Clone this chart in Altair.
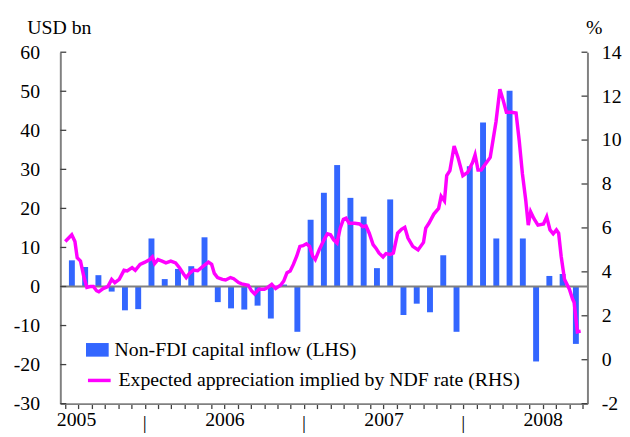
import altair as alt
import pandas as pd

# ---------------- data ----------------
bar_name = "Non-FDI capital inflow (LHS)"
line_name = "Expected appreciation implied by NDF rate (RHS)"

# monthly, Jan 2005 .. Mar 2008 (month index 0..38)
months = list(range(39))
inflow = [6.7, 5.0, 2.9, -1.3, -6.1, -5.8, 12.3, 1.9, 4.5, 5.2, 12.6, -4.0,
          -5.6, -5.9, -4.9, -8.2, 0.5, -11.6, 17.1, 24.0, 31.1, 22.7, 17.9, 4.7,
          22.3, -7.3, -4.4, -6.6, 8.0, -11.6, 30.8, 42.0, 12.3, 50.1, 12.3, -19.2,
          2.7, 3.2, -14.7]

# NDF implied appreciation, time in months since Jan 2005
line_t = [0, 0.49, 0.73, 0.90, 1.15, 1.39, 1.63, 1.88, 2.12, 2.36, 2.53, 2.85,
          3.21, 3.50, 3.74, 4.07, 4.43, 4.67, 5.04, 5.28, 5.64, 6.01, 6.37, 6.57,
          6.74, 6.99, 7.30, 7.59, 7.96, 8.32, 8.61, 8.93, 9.12, 9.36, 9.66, 9.98,
          10.27, 10.64, 10.80, 11.04, 11.24, 11.48, 11.85, 12.09, 12.46, 12.70,
          13.07, 13.31, 13.80, 14.04, 14.28, 14.60, 15.01, 15.26, 15.57, 15.86,
          16.23, 16.47, 16.72, 16.96, 17.20, 17.45, 17.69, 17.93, 18.18, 18.42,
          18.66, 18.85, 19.15, 19.51, 19.76, 20.00, 20.24, 20.49, 20.73, 20.97,
          21.17, 21.41, 21.82, 22.19, 22.43, 22.68, 22.92, 23.21, 23.41, 23.65,
          23.96, 24.18, 24.50, 24.74, 25.06, 25.35, 25.60, 25.84, 26.20, 26.60,
          27.01, 27.18, 27.42, 27.79, 28.15, 28.34, 28.59, 28.76, 29.00, 29.32,
          29.61, 29.98, 30.34, 30.71, 30.90, 31.12, 31.36, 31.68, 32.04, 32.28,
          32.48, 32.77, 33.01, 33.26, 33.63, 33.99, 34.23, 34.47, 34.72, 34.91,
          35.09, 35.33, 35.64, 36.06, 36.30, 36.55, 36.79, 37.03, 37.20, 37.39,
          37.64, 38.01, 38.25, 38.37, 38.61, 38.86]
line_v = [5.38, 5.69, 5.38, 4.64, 4.49, 3.81, 3.29, 3.33, 3.33, 3.14, 3.09, 3.24,
          3.33, 3.66, 3.51, 3.66, 4.07, 4.04, 4.19, 4.07, 4.34, 4.44, 4.56, 4.68,
          4.38, 4.56, 4.49, 4.41, 4.49, 4.41, 4.19, 3.89, 3.74, 3.93, 4.08, 4.05,
          4.19, 4.37, 4.44, 4.34, 3.93, 3.74, 3.66, 3.63, 3.74, 3.69,
          3.51, 3.45, 3.39, 3.14, 2.99, 3.21, 3.21, 3.29, 3.43, 3.24,
          3.39, 3.58, 3.96, 4.04, 4.34, 4.71, 5.16, 5.19, 5.28, 5.16,
          4.71, 4.56, 5.01, 5.46, 5.73, 5.69, 5.46, 5.31, 5.99, 6.39,
          6.44, 6.21, 6.21, 6.18, 6.06, 6.09, 5.76, 5.24, 5.09, 4.86,
          4.68, 4.83, 4.79, 4.86, 5.76, 5.94, 6.03, 5.54, 5.16, 5.00,
          5.34, 5.99, 6.21, 6.63, 6.89, 7.44, 7.23, 8.38, 8.61, 9.73,
          9.21, 8.38, 8.53, 8.98, 9.33, 8.64, 8.64, 8.91, 9.21, 10.10,
          10.85, 12.32, 11.83, 11.27, 11.27, 11.23, 9.96, 8.46, 7.26, 6.13,
          6.73, 6.43, 6.13, 6.18, 6.51, 5.91, 5.73, 5.91, 5.76, 4.71,
          3.66, 3.21, 2.76, 2.61, 1.27, 1.30]

left_ticks = list(range(-30, 61, 10))
right_ticks = list(range(-2, 15, 2))
month_ticks = list(range(40))
year_sep = [6, 18, 30]

# ---------------- styling ----------------
FONT = "Liberation Serif"
FS = 20
BLUE = "#3366ff"
MAGENTA = "#ff00ff"
AXIS_GREY = "#808080"
TICK = "#404040"
W, H = 534, 356

bars_df = pd.DataFrame({"t": [m + 0.5 for m in months], "v": inflow, "s": bar_name})
line_df = pd.DataFrame({"t": line_t, "v": line_v, "s": line_name})
lt_df = pd.DataFrame({"v": left_ticks})
rt_df = pd.DataFrame({"v": right_ticks})
zero_df = pd.DataFrame({"v": [0]})
sep_df = pd.DataFrame({"t": year_sep})

xscale = alt.Scale(domain=[0, 39], nice=False, zero=False)
lscale = alt.Scale(domain=[-30, 60], nice=False, zero=False)
rscale = alt.Scale(domain=[-2, 14], nice=False, zero=False)

x_axis = alt.Axis(
    values=month_ticks, title=None, grid=False,
    labelExpr="datum.value % 12 == 0 ? '' + (2005 + datum.value / 12) : ''",
    labelFont=FONT, labelFontSize=FS, labelColor="black", labelOverlap=False,
    labelFlush=False, labelAlign="center",
    labelOffset={"condition": {"test": "datum.value == 0", "value": 11}, "value": 0},
    labelPadding=1,
    tickSize=5, tickColor=TICK, tickWidth=1.3,
    domainColor=AXIS_GREY, domainWidth=2,
)

left_axis = alt.Axis(
    orient="left", values=left_ticks, ticks=False, grid=False, labelPadding=21,
    labelExpr="'' + datum.value",
    labelFont=FONT, labelFontSize=FS, labelColor="black",
    domainColor=AXIS_GREY, domainWidth=2,
    title="USD bn", titleAngle=0, titleX=-34, titleY=-19, titleAlign="left",
    titleBaseline="alphabetic", titleFont=FONT, titleFontSize=FS,
    titleFontWeight="normal", titleColor="black",
)

right_axis = alt.Axis(
    orient="right", values=right_ticks, ticks=False, grid=False, labelPadding=14,
    labelExpr="'' + datum.value",
    labelFont=FONT, labelFontSize=FS, labelColor="black",
    domainColor=AXIS_GREY, domainWidth=2,
    title="%", titleAngle=0, titleX=-2, titleY=-19, titleAlign="left",
    titleBaseline="alphabetic", titleFont=FONT, titleFontSize=FS,
    titleFontWeight="normal", titleColor="black",
)

X = alt.X("t:Q", scale=xscale, axis=x_axis)
YL = alt.Y("v:Q", scale=lscale, axis=left_axis)
YR = alt.Y("v:Q", scale=rscale, axis=right_axis)

bars = alt.Chart(bars_df).mark_bar(size=6).encode(
    x=X,
    y=YL,
    color=alt.Color(
        "s:N", scale=alt.Scale(domain=[bar_name], range=[BLUE]),
        legend=alt.Legend(
            orient="none", legendX=26, legendY=290, title=None, padding=0,
            symbolType="M-1,-0.6L1,-0.6L1,0.6L-1,0.6Z", symbolSize=529,
            symbolStrokeWidth=0, symbolOpacity=1, labelOffset=6,
            labelFont=FONT, labelFontSize=FS, labelColor="black", labelLimit=600,
        ),
    ),
)

zero = alt.Chart(zero_df).mark_rule(color=AXIS_GREY, strokeWidth=2).encode(y=YL)

lticks = alt.Chart(lt_df).mark_rule(color=TICK, strokeWidth=1.3).encode(
    y=YL, x=alt.value(0), x2=alt.value(6)
)

seps = alt.Chart(sep_df).mark_text(
    text="|", font=FONT, fontSize=FS, baseline="alphabetic", color="black"
).encode(x=X, y=alt.value(382))

line = alt.Chart(line_df).mark_line(strokeWidth=3.5, interpolate="linear").encode(
    x=X,
    y=YR,
    stroke=alt.Stroke(
        "s:N", scale=alt.Scale(domain=[line_name], range=[MAGENTA]),
        legend=alt.Legend(
            orient="none", legendX=26, legendY=319, title=None, padding=0,
            symbolType="stroke", symbolSize=529, symbolStrokeWidth=3.5,
            labelOffset=6, labelFont=FONT, labelFontSize=FS, labelColor="black",
            labelLimit=600,
        ),
    ),
)

rticks = alt.Chart(rt_df).mark_rule(color=TICK, strokeWidth=1.3).encode(
    y=YR, x=alt.value(W - 6), x2=alt.value(W)
)

left = alt.layer(bars, zero, lticks, seps)
right = alt.layer(line, rticks)

chart = (
    alt.layer(left, right)
    .resolve_scale(y="independent")
    .properties(
        width=W, height=H,
        padding={"left": 53, "top": 42, "right": 35, "bottom": 31},
        autosize=alt.AutoSizeParams(type="none"),
        background="white",
    )
    .configure_view(stroke=None)
    .configure_axis(grid=False)
)

chart.save("out.html", embed_options={"renderer": "svg", "actions": False})
